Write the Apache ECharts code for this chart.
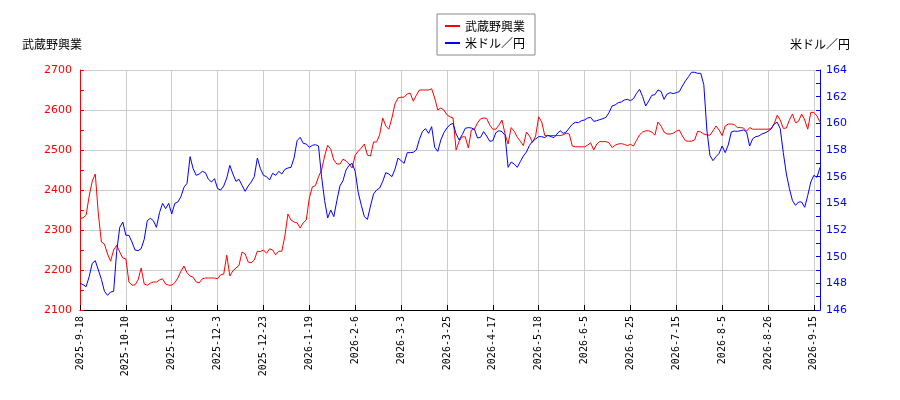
<!DOCTYPE html>
<html>
<head>
<meta charset="utf-8">
<script src="https://cdn.jsdelivr.net/npm/echarts@6/dist/echarts.min.js"></script>
<style>
html,body{margin:0;padding:0;background:#fff;}
#chart{width:900px;height:400px;}
</style>
</head>
<body>
<div id="chart"></div>
<script>
const seriesNames = ['武蔵野興業', '米ドル／円'];
const axisNames = ['武蔵野興業', '米ドル／円'];
const tickLabels = ['2025-9-18','2025-10-10','2025-11-6','2025-12-3','2025-12-23','2026-1-19','2026-2-6','2026-3-3','2026-3-25','2026-4-17','2026-5-18','2026-6-5','2026-6-25','2026-7-15','2026-8-5','2026-8-26','2026-9-15'];
const labelEvery = 15;

const stock = [
2330,2330,2337,2385,2422,2440,2340,2270,2265,2240,
2222,2250,2262,2245,2230,2228,2170,2162,2163,2175,
2205,2165,2162,2167,2170,2170,2175,2178,2165,2162,
2162,2168,2180,2197,2210,2193,2185,2182,2170,2168,
2178,2180,2180,2180,2180,2178,2188,2190,2237,2185,
2198,2205,2212,2245,2240,2220,2218,2225,2247,2246,
2250,2242,2253,2250,2238,2247,2247,2285,2340,2325,
2320,2318,2305,2318,2325,2380,2408,2411,2433,2450,
2485,2512,2502,2475,2465,2465,2477,2473,2465,2455,
2487,2497,2505,2515,2487,2485,2520,2520,2538,2580,
2560,2552,2580,2615,2630,2632,2632,2640,2642,2622,
2637,2650,2650,2650,2650,2653,2630,2600,2605,2600,
2588,2583,2580,2500,2522,2533,2533,2505,2550,2552,
2568,2578,2580,2579,2562,2552,2552,2562,2575,2540,
2515,2556,2547,2532,2522,2511,2545,2535,2519,2535,
2583,2570,2536,2536,2536,2536,2536,2536,2538,2542,
2540,2510,2508,2508,2508,2508,2512,2518,2500,2515,
2521,2521,2521,2518,2506,2512,2515,2516,2514,2511,
2514,2510,2524,2538,2545,2548,2548,2545,2537,2570,
2560,2545,2540,2540,2542,2547,2550,2535,2523,2522,
2522,2525,2547,2545,2540,2538,2537,2548,2560,2550,
2536,2560,2565,2565,2563,2556,2556,2555,2547,2556,
2552,2552,2552,2552,2552,2552,2553,2565,2587,2575,
2554,2555,2575,2590,2568,2572,2590,2575,2552,2594,
2594,2585,2570
];

const usdjpy = [
148.0,147.9,147.75,148.5,149.5,149.7,149.0,148.3,147.4,147.1,
147.35,147.4,150.4,152.2,152.6,151.6,151.6,151.1,150.5,150.45,
150.6,151.3,152.7,152.88,152.7,152.2,153.3,154.0,153.6,154.0,
153.2,154.0,154.1,154.5,155.2,155.5,157.5,156.6,156.1,156.2,
156.4,156.3,155.8,155.6,155.85,155.1,155.0,155.3,155.9,156.85,
156.2,155.65,155.8,155.35,154.9,155.3,155.6,156.0,157.4,156.6,
156.1,156.0,155.75,156.25,156.1,156.4,156.2,156.55,156.65,156.7,
157.4,158.7,158.95,158.5,158.45,158.2,158.35,158.4,158.3,156.0,
154.2,152.9,153.5,153.0,154.2,155.3,155.7,156.5,156.85,157.0,
156.4,154.8,153.85,153.0,152.8,153.8,154.7,155.0,155.15,155.65,
156.3,156.2,156.0,156.55,157.4,157.2,157.0,157.8,157.8,157.83,
158.0,158.8,159.4,159.6,159.25,159.75,158.2,157.9,158.75,159.3,
159.65,159.9,160.0,159.2,158.75,159.15,159.63,159.68,159.65,159.55,
158.9,158.95,159.38,159.05,158.65,158.7,159.3,159.45,159.38,159.1,
156.7,157.1,156.95,156.7,157.13,157.55,157.85,158.35,158.65,158.83,
159.0,159.0,158.93,159.1,159.0,158.93,159.2,159.45,159.25,159.35,
159.65,159.93,160.08,160.05,160.2,160.25,160.4,160.45,160.15,160.2,
160.28,160.35,160.45,160.8,161.3,161.38,161.55,161.6,161.75,161.8,
161.7,161.85,162.25,162.55,162.0,161.3,161.68,162.1,162.15,162.5,
162.4,161.8,162.2,162.3,162.23,162.3,162.38,162.8,163.18,163.5,
163.83,163.83,163.75,163.75,162.9,159.5,157.6,157.2,157.5,157.75,
158.3,157.8,158.38,159.35,159.42,159.4,159.45,159.5,159.35,158.3,
158.85,159.0,159.05,159.2,159.28,159.4,159.58,159.95,160.08,159.6,
157.8,156.2,155.1,154.2,153.85,154.1,154.1,153.7,154.6,155.6,
156.1,155.95,156.7
];

const categories = stock.map((_, i) => 'd' + i);

const chart = echarts.init(document.getElementById('chart'), null, {renderer: 'canvas'});
const baseFont = 'DejaVu Sans, "Noto Sans CJK JP", sans-serif';
const cjkFont = '"Noto Sans CJK JP", "DejaVu Sans", sans-serif';

chart.setOption({
  animation: false,
  backgroundColor: '#ffffff',
  textStyle: {fontFamily: baseFont},
  legend: {
    left: 437,
    top: 14,
    orient: 'vertical',
    data: seriesNames,
    icon: 'rect',
    itemWidth: 15,
    itemHeight: 2,
    itemGap: 5,
    padding: [6, 10, 6, 8],
    borderColor: '#888888',
    borderWidth: 1,
    backgroundColor: '#ffffff',
    textStyle: {fontFamily: cjkFont, fontSize: 12, color: '#000'}
  },
  grid: {left: 80, right: 80, top: 70, bottom: 90},
  xAxis: {
    type: 'category',
    data: categories,
    boundaryGap: false,
    axisLine: {lineStyle: {color: '#000', width: 1}},
    axisTick: {show: true, inside: true, length: 5, interval: labelEvery - 1, lineStyle: {color: '#000'}},
    axisLabel: {
      interval: labelEvery - 1,
      rotate: 90,
      margin: 6,
      fontSize: 10,
      fontFamily: '"DejaVu Sans Mono", monospace',
      color: '#000',
      formatter: (v, idx) => tickLabels[Math.round(idx / labelEvery)] || ''
    },
    splitLine: {show: true, interval: labelEvery - 1, lineStyle: {color: '#cccccc', width: 1}}
  },
  yAxis: [
    {
      type: 'value',
      position: 'left',
      min: 2100, max: 2700, interval: 100,
      name: axisNames[0],
      nameGap: 20,
      nameTextStyle: {fontFamily: cjkFont, fontSize: 12, color: '#000', align: 'right', padding: [0, -2, 0, 0]},
      axisLine: {show: true, lineStyle: {color: '#ff0000', width: 1}},
      axisTick: {show: true, inside: true, length: 4, lineStyle: {color: '#ff0000'}},
      minorTick: {show: true, splitNumber: 2, length: 4, lineStyle: {color: '#ff0000'}},
      axisLabel: {color: '#ff0000', fontSize: 11, margin: 8, formatter: v => String(v)},
      splitLine: {show: true, lineStyle: {color: '#cccccc', width: 1}}
    },
    {
      type: 'value',
      position: 'right',
      min: 146, max: 164, interval: 2,
      name: axisNames[1],
      nameGap: 20,
      nameTextStyle: {fontFamily: cjkFont, fontSize: 12, color: '#000', align: 'center'},
      axisLine: {show: true, lineStyle: {color: '#0000ff', width: 1}},
      axisTick: {show: true, inside: true, length: 4, lineStyle: {color: '#0000ff'}},
      minorTick: {show: true, splitNumber: 2, length: 4, lineStyle: {color: '#0000ff'}},
      axisLabel: {color: '#0000ff', fontSize: 11, margin: 6, formatter: v => String(v)},
      splitLine: {show: false}
    }
  ],
  series: [
    {
      name: seriesNames[0],
      type: 'line',
      yAxisIndex: 0,
      data: stock,
      showSymbol: false,
      symbol: 'none',
      lineStyle: {color: '#ff0000', width: 1},
      itemStyle: {color: '#ff0000'}
    },
    {
      name: seriesNames[1],
      type: 'line',
      yAxisIndex: 1,
      data: usdjpy,
      showSymbol: false,
      symbol: 'none',
      lineStyle: {color: '#0000ff', width: 1},
      itemStyle: {color: '#0000ff'}
    }
  ]
});
</script>
</body>
</html>
